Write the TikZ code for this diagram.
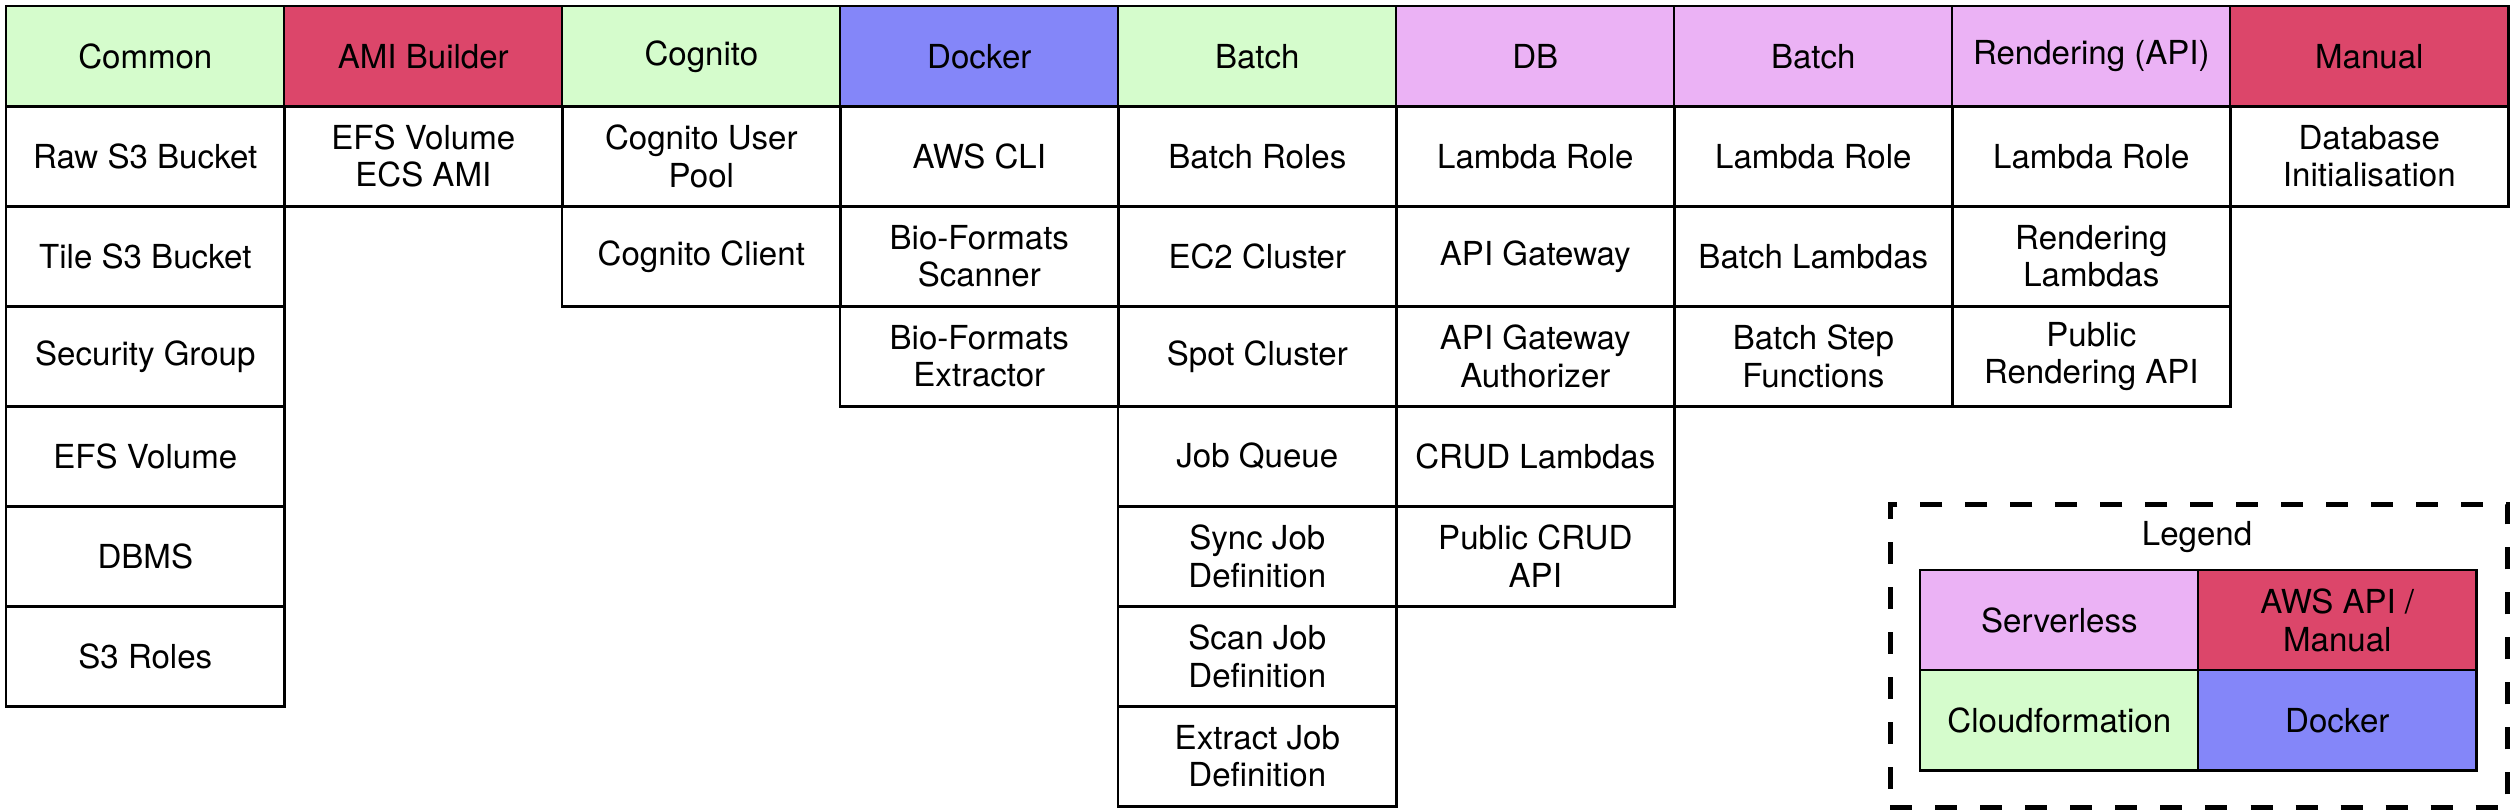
\documentclass[tikz,border=0pt]{standalone}
\usepackage{fontspec}
\setmainfont{TeX Gyre Heros}
\definecolor{cfgreen}{HTML}{D5FCCC}
\definecolor{awsred}{HTML}{DC466A}
\definecolor{dockblue}{HTML}{8486F9}
\definecolor{slpink}{HTML}{EBB2F5}
\begin{document}
\begin{tikzpicture}[x=0.01cm,y=-0.01cm,
  cell/.style={draw=black,line width=0.7pt,minimum width=2.78cm,minimum height=1cm,
    inner sep=0pt,anchor=north west,align=center,font=\fontsize{9.4}{10.6}\selectfont},
  cf/.style={cell,fill=cfgreen},
  aws/.style={cell,fill=awsred},
  dock/.style={cell,fill=dockblue},
  sl/.style={cell,fill=slpink},
  legendbox/.style={draw=black,line width=1.3pt,dash pattern=on 0.22cm off 0.23cm,
    minimum width=6.17cm,minimum height=3.03cm,inner sep=0pt,anchor=north west},
  legendtitle/.style={inner sep=0pt,font=\fontsize{9.4}{10.6}\selectfont}]
\useasboundingbox (0,0) rectangle (2511,811);
% Column 1: Common
\node[cf] (c1h) at (5,5) {Common};
\node[cell] (c1a) at (5,105) {Raw S3 Bucket};
\node[cell] (c1b) at (5,205) {Tile S3 Bucket};
\node[cell] (c1c) at (5,305) {Security Group};
\node[cell] (c1d) at (5,405) {EFS Volume};
\node[cell] (c1e) at (5,505) {DBMS};
\node[cell] (c1f) at (5,605) {S3 Roles};
% Column 2: AMI Builder
\node[aws] (c2h) at (283,5) {AMI Builder};
\node[cell] (c2a) at (283,105) {EFS Volume\\ECS AMI};
% Column 3: Cognito
\node[cf] (c3h) at (561,5) {Cognito};
\node[cell] (c3a) at (561,105) {Cognito User\\Pool};
\node[cell] (c3b) at (561,205) {Cognito Client};
% Column 4: Docker
\node[dock] (c4h) at (839,5) {Docker};
\node[cell] (c4a) at (839,105) {AWS CLI};
\node[cell] (c4b) at (839,205) {Bio-Formats\\Scanner};
\node[cell] (c4c) at (839,305) {Bio-Formats\\Extractor};
% Column 5: Batch
\node[cf] (c5h) at (1117,5) {Batch};
\node[cell] (c5a) at (1117,105) {Batch Roles};
\node[cell] (c5b) at (1117,205) {EC2 Cluster};
\node[cell] (c5c) at (1117,305) {Spot Cluster};
\node[cell] (c5d) at (1117,405) {Job Queue};
\node[cell] (c5e) at (1117,505) {Sync Job\\Definition};
\node[cell] (c5f) at (1117,605) {Scan Job\\Definition};
\node[cell] (c5g) at (1117,705) {Extract Job\\Definition};
% Column 6: DB
\node[sl] (c6h) at (1395,5) {DB};
\node[cell] (c6a) at (1395,105) {Lambda Role};
\node[cell] (c6b) at (1395,205) {API Gateway};
\node[cell] (c6c) at (1395,305) {API Gateway\\Authorizer};
\node[cell] (c6d) at (1395,405) {CRUD Lambdas};
\node[cell] (c6e) at (1395,505) {Public CRUD\\API};
% Column 7: Batch (serverless)
\node[sl] (c7h) at (1673,5) {Batch};
\node[cell] (c7a) at (1673,105) {Lambda Role};
\node[cell] (c7b) at (1673,205) {Batch Lambdas};
\node[cell] (c7c) at (1673,305) {Batch Step\\Functions};
% Column 8: Rendering (API)
\node[sl] (c8h) at (1951,5) {Rendering (API)};
\node[cell] (c8a) at (1951,105) {Lambda Role};
\node[cell] (c8b) at (1951,205) {Rendering\\Lambdas};
\node[cell] (c8c) at (1951,305) {Public\\Rendering API};
% Column 9: Manual
\node[aws] (c9h) at (2229,5) {Manual};
\node[cell] (c9a) at (2229,105) {Database\\Initialisation};
% Legend
\node[legendbox] (lg) at (1888,502) {};
\node[legendtitle] (lgt) at (2197,537) {Legend};
\node[sl] (lg1) at (1919,569) {Serverless};
\node[aws] (lg2) at (2197,569) {AWS API /\\Manual};
\node[cf] (lg3) at (1919,669) {Cloudformation};
\node[dock] (lg4) at (2197,669) {Docker};
\end{tikzpicture}
\end{document}
